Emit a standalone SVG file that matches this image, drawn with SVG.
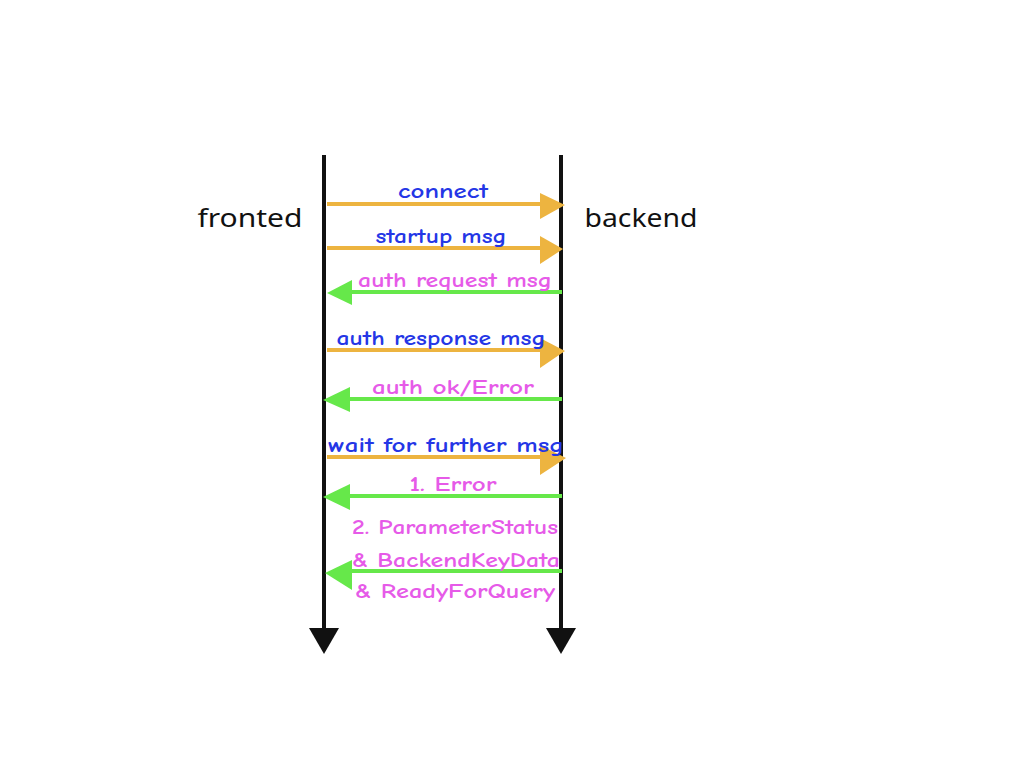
<svg xmlns="http://www.w3.org/2000/svg" width="1024" height="768" viewBox="0 0 1024 768">
<defs>
<style>
.life{stroke:#111;stroke-width:4;fill:none}
.lhead{fill:#111}
.req{stroke:#EDB440;stroke-width:4;fill:none}
.reqh{fill:#EDB440}
.res{stroke:#66E84A;stroke-width:4;fill:none}
.resh{fill:#66E84A}
.t{font-family:"Comic Neue","Noto Sans","Liberation Sans",sans-serif;font-size:21px;font-weight:bold;text-anchor:middle}
.blue{fill:#2436E6}
.pink{fill:#E65AE8}
.name{font-family:"Noto Sans","Liberation Sans",sans-serif;font-size:25px;fill:#111;text-anchor:middle}
</style>
</defs>
<rect width="1024" height="768" fill="#fff"/>
<g id="fronted">
<line class="life" x1="324" y1="155" x2="324" y2="630"/>
<polygon class="lhead" points="309,628 339,628 324,654"/>
<text class="name" x="250" y="227" textLength="105" lengthAdjust="spacingAndGlyphs">fronted</text>
</g>
<g id="backend">
<line class="life" x1="561" y1="155" x2="561" y2="630"/>
<polygon class="lhead" points="546,628 576,628 561,654"/>
<text class="name" x="641" y="227" textLength="113" lengthAdjust="spacingAndGlyphs">backend</text>
</g>
<g id="connectors">
<line class="req" x1="327" y1="204" x2="545" y2="204"/>
<polygon class="reqh" points="540,193 565,205 540,219"/>
<line class="req" x1="327" y1="248" x2="545" y2="248"/>
<polygon class="reqh" points="540,236 563,249 540,264"/>
<line class="res" x1="562" y1="292" x2="345" y2="292"/>
<polygon class="resh" points="352,280 327,293 352,305"/>
<line class="req" x1="327" y1="350" x2="545" y2="350"/>
<polygon class="reqh" points="540,338 565,351 540,368"/>
<line class="res" x1="562" y1="399" x2="345" y2="399"/>
<polygon class="resh" points="350,387 323,400 350,412"/>
<line class="req" x1="327" y1="457" x2="545" y2="457"/>
<polygon class="reqh" points="540,445 566,458 540,475"/>
<line class="res" x1="562" y1="496" x2="345" y2="496"/>
<polygon class="resh" points="350,484 323,497 350,510"/>
<line class="res" x1="562" y1="571" x2="345" y2="571"/>
<polygon class="resh" points="352,560 325,573 352,590"/>
</g>
<g id="labels">
<text class="t blue" x="443" y="198" textLength="90" lengthAdjust="spacingAndGlyphs">connect</text>
<text class="t blue" x="441" y="243" textLength="131" lengthAdjust="spacingAndGlyphs">startup msg</text>
<text class="t pink" x="455" y="287" textLength="194" lengthAdjust="spacingAndGlyphs">auth request msg</text>
<text class="t blue" x="441" y="345" textLength="209" lengthAdjust="spacingAndGlyphs">auth response msg</text>
<text class="t pink" x="453" y="394" textLength="162" lengthAdjust="spacingAndGlyphs">auth ok/Error</text>
<text class="t blue" x="446" y="452" textLength="236" lengthAdjust="spacingAndGlyphs">wait for further msg</text>
<text class="t pink" x="453" y="491" textLength="87" lengthAdjust="spacingAndGlyphs">1. Error</text>
<text class="t pink" x="455" y="534" textLength="206" lengthAdjust="spacingAndGlyphs">2. ParameterStatus</text>
<text class="t pink" x="456" y="567" textLength="208" lengthAdjust="spacingAndGlyphs">&amp; BackendKeyData</text>
<text class="t pink" x="455" y="598" textLength="200" lengthAdjust="spacingAndGlyphs">&amp; ReadyForQuery</text>
</g>
</svg>
